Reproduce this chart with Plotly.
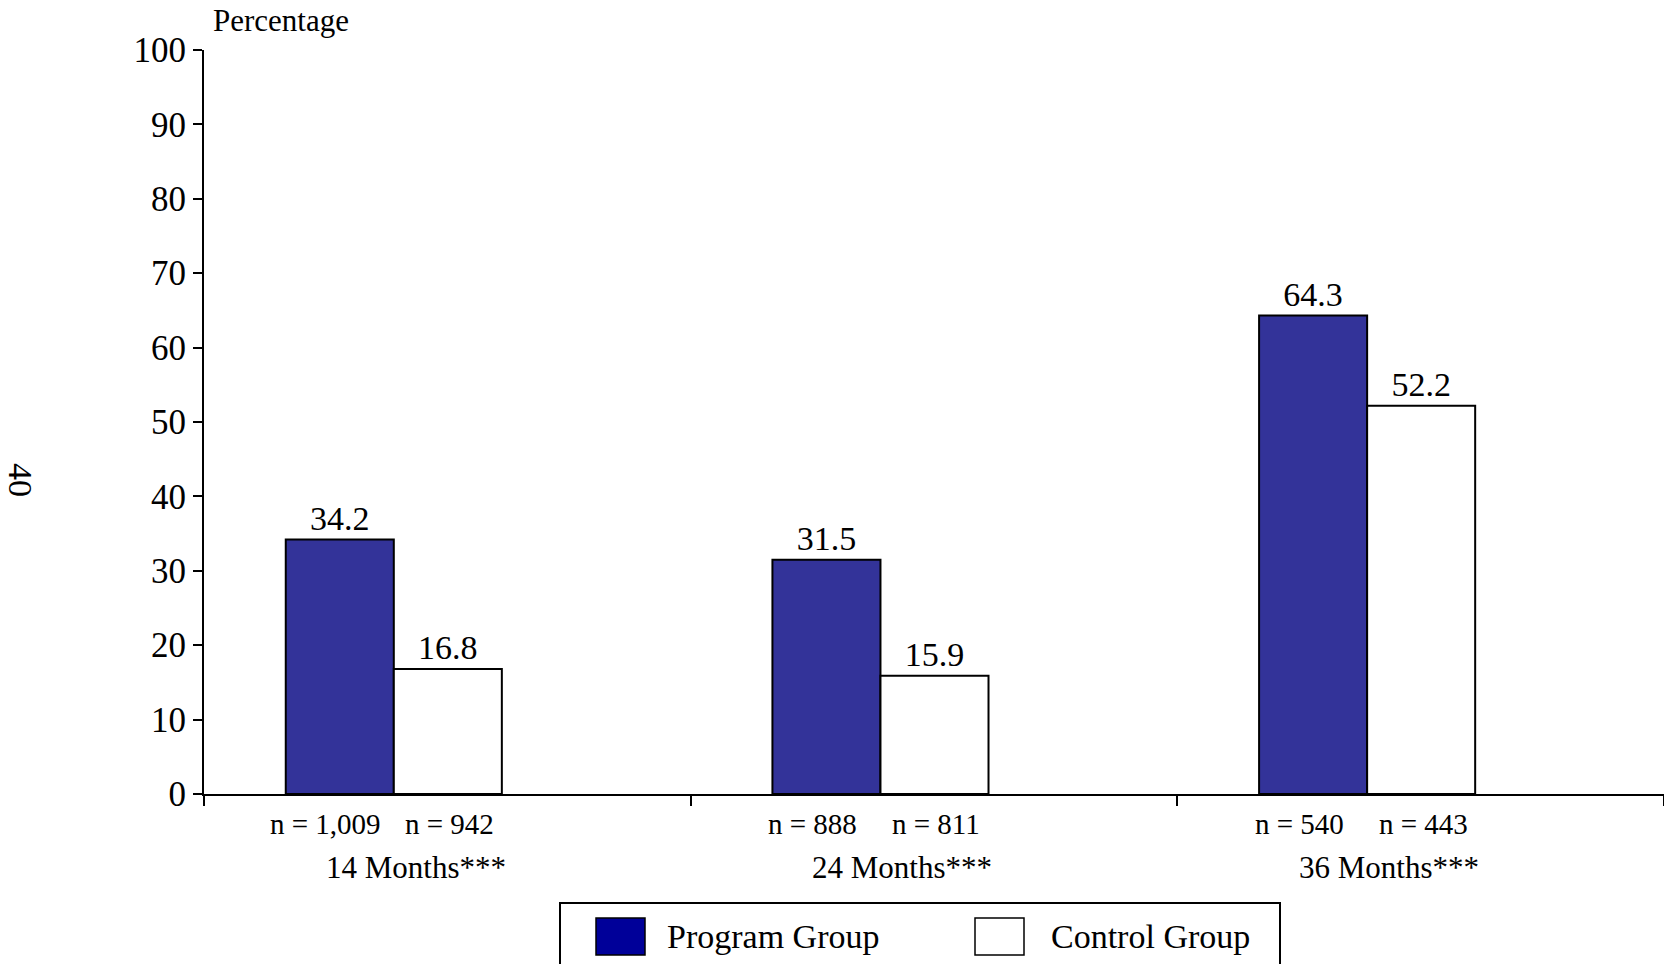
import plotly.graph_objects as go

# Survey waves and sample sizes
periods = ["14 Months***", "24 Months***", "36 Months***"]
series_names = ["Program Group", "Control Group"]
program_pct = [34.2, 31.5, 64.3]
control_pct = [16.8, 15.9, 52.2]
program_n = ["n = 1,009", "n = 888", "n = 540"]
control_n = ["n = 942", "n = 811", "n = 443"]
y_ticks = [0, 10, 20, 30, 40, 50, 60, 70, 80, 90, 100]

W, H = 1664, 964
ML, MR, MT, MB = 204, 0, 50, 170
FONT = "Liberation Serif, Times New Roman, serif"
PROGRAM_FILL = "#333399"
LEGEND_FILL = "#000099"
BARGAP = 0.556
SHIFT = 0.39  # axis starts this far left of the first group centre

x_pos = list(range(len(periods)))
bar_w = (1 - BARGAP) / 2
x_range = [-SHIFT, len(periods) - SHIFT]
x_ticks = [k - SHIFT for k in range(len(periods) + 1)]

pw = W - ML - MR
ph = H - MT - MB


def px_x(px):
    return (px - ML) / pw


def px_y(py):
    return (H - MB - py) / ph


fig = go.Figure()
fig.add_trace(go.Bar(
    x=x_pos, y=program_pct, name=series_names[0],
    marker=dict(color=PROGRAM_FILL, line=dict(color="black", width=2)),
    text=[f"{v:.1f}" for v in program_pct], textposition="outside",
    textfont=dict(size=34, color="black", family=FONT),
    cliponaxis=False, constraintext="none",
))
fig.add_trace(go.Bar(
    x=x_pos, y=control_pct, name=series_names[1],
    marker=dict(color="white", line=dict(color="black", width=2)),
    text=[f"{v:.1f}" for v in control_pct], textposition="outside",
    textfont=dict(size=34, color="black", family=FONT),
    cliponaxis=False, constraintext="none",
))

annotations = []
# sample sizes under each bar and period labels under each group
for i in x_pos:
    annotations.append(dict(
        x=i - bar_w / 2, y=0, xref="x", yref="paper", text=program_n[i],
        showarrow=False, xanchor="center", yanchor="middle", yshift=-30, xshift=-14,
        font=dict(size=29, color="black", family=FONT)))
    annotations.append(dict(
        x=i + bar_w / 2, y=0, xref="x", yref="paper", text=control_n[i],
        showarrow=False, xanchor="center", yanchor="middle", yshift=-30, xshift=2,
        font=dict(size=29, color="black", family=FONT)))
    annotations.append(dict(
        x=i, y=0, xref="x", yref="paper", text=periods[i],
        showarrow=False, xanchor="center", yanchor="middle", yshift=-73, xshift=22,
        font=dict(size=31, color="black", family=FONT)))

# axis title
annotations.append(dict(
    x=px_x(211), y=px_y(20), xref="paper", yref="paper", text="Percentage",
    showarrow=False, xanchor="left", yanchor="middle",
    font=dict(size=31, color="black", family=FONT)))

# page number
annotations.append(dict(
    x=px_x(20), y=px_y(480), xref="paper", yref="paper", text="40",
    showarrow=False, xanchor="center", yanchor="middle", textangle=90,
    font=dict(size=34, color="black", family=FONT)))

# legend text
annotations.append(dict(
    x=px_x(665), y=px_y(936), xref="paper", yref="paper", text=series_names[0],
    showarrow=False, xanchor="left", yanchor="middle",
    font=dict(size=34, color="black", family=FONT)))
annotations.append(dict(
    x=px_x(1049), y=px_y(936), xref="paper", yref="paper", text=series_names[1],
    showarrow=False, xanchor="left", yanchor="middle",
    font=dict(size=34, color="black", family=FONT)))

shapes = [
    # legend frame
    dict(type="rect", xref="paper", yref="paper",
         x0=px_x(560), x1=px_x(1280), y0=px_y(1000), y1=px_y(903),
         line=dict(color="black", width=2), fillcolor="rgba(0,0,0,0)"),
    # legend swatches
    dict(type="rect", xref="paper", yref="paper",
         x0=px_x(596), x1=px_x(645), y0=px_y(955), y1=px_y(918),
         line=dict(color="black", width=1.5), fillcolor=LEGEND_FILL),
    dict(type="rect", xref="paper", yref="paper",
         x0=px_x(975), x1=px_x(1024), y0=px_y(955), y1=px_y(918),
         line=dict(color="black", width=1.5), fillcolor="white"),
]

fig.update_layout(
    width=W, height=H,
    margin=dict(l=ML, r=MR, t=MT, b=MB, pad=0),
    paper_bgcolor="white", plot_bgcolor="white",
    barmode="group", bargap=BARGAP, bargroupgap=0,
    showlegend=False,
    font=dict(family=FONT, color="black"),
    annotations=annotations, shapes=shapes,
    xaxis=dict(
        range=x_range, tickmode="array", tickvals=x_ticks, showticklabels=False,
        showline=True, linecolor="black", linewidth=2,
        ticks="outside", ticklen=10, tickwidth=1.5, tickcolor="black",
        showgrid=False, zeroline=False, fixedrange=True,
    ),
    yaxis=dict(
        range=[0, 100], tickmode="array", tickvals=y_ticks,
        showline=True, linecolor="black", linewidth=2,
        ticks="outside", ticklen=9, tickwidth=2, tickcolor="black",
        tickfont=dict(size=35, color="black", family=FONT),
        showgrid=False, zeroline=False, fixedrange=True,
    ),
)

fig.write_html("out.html")
